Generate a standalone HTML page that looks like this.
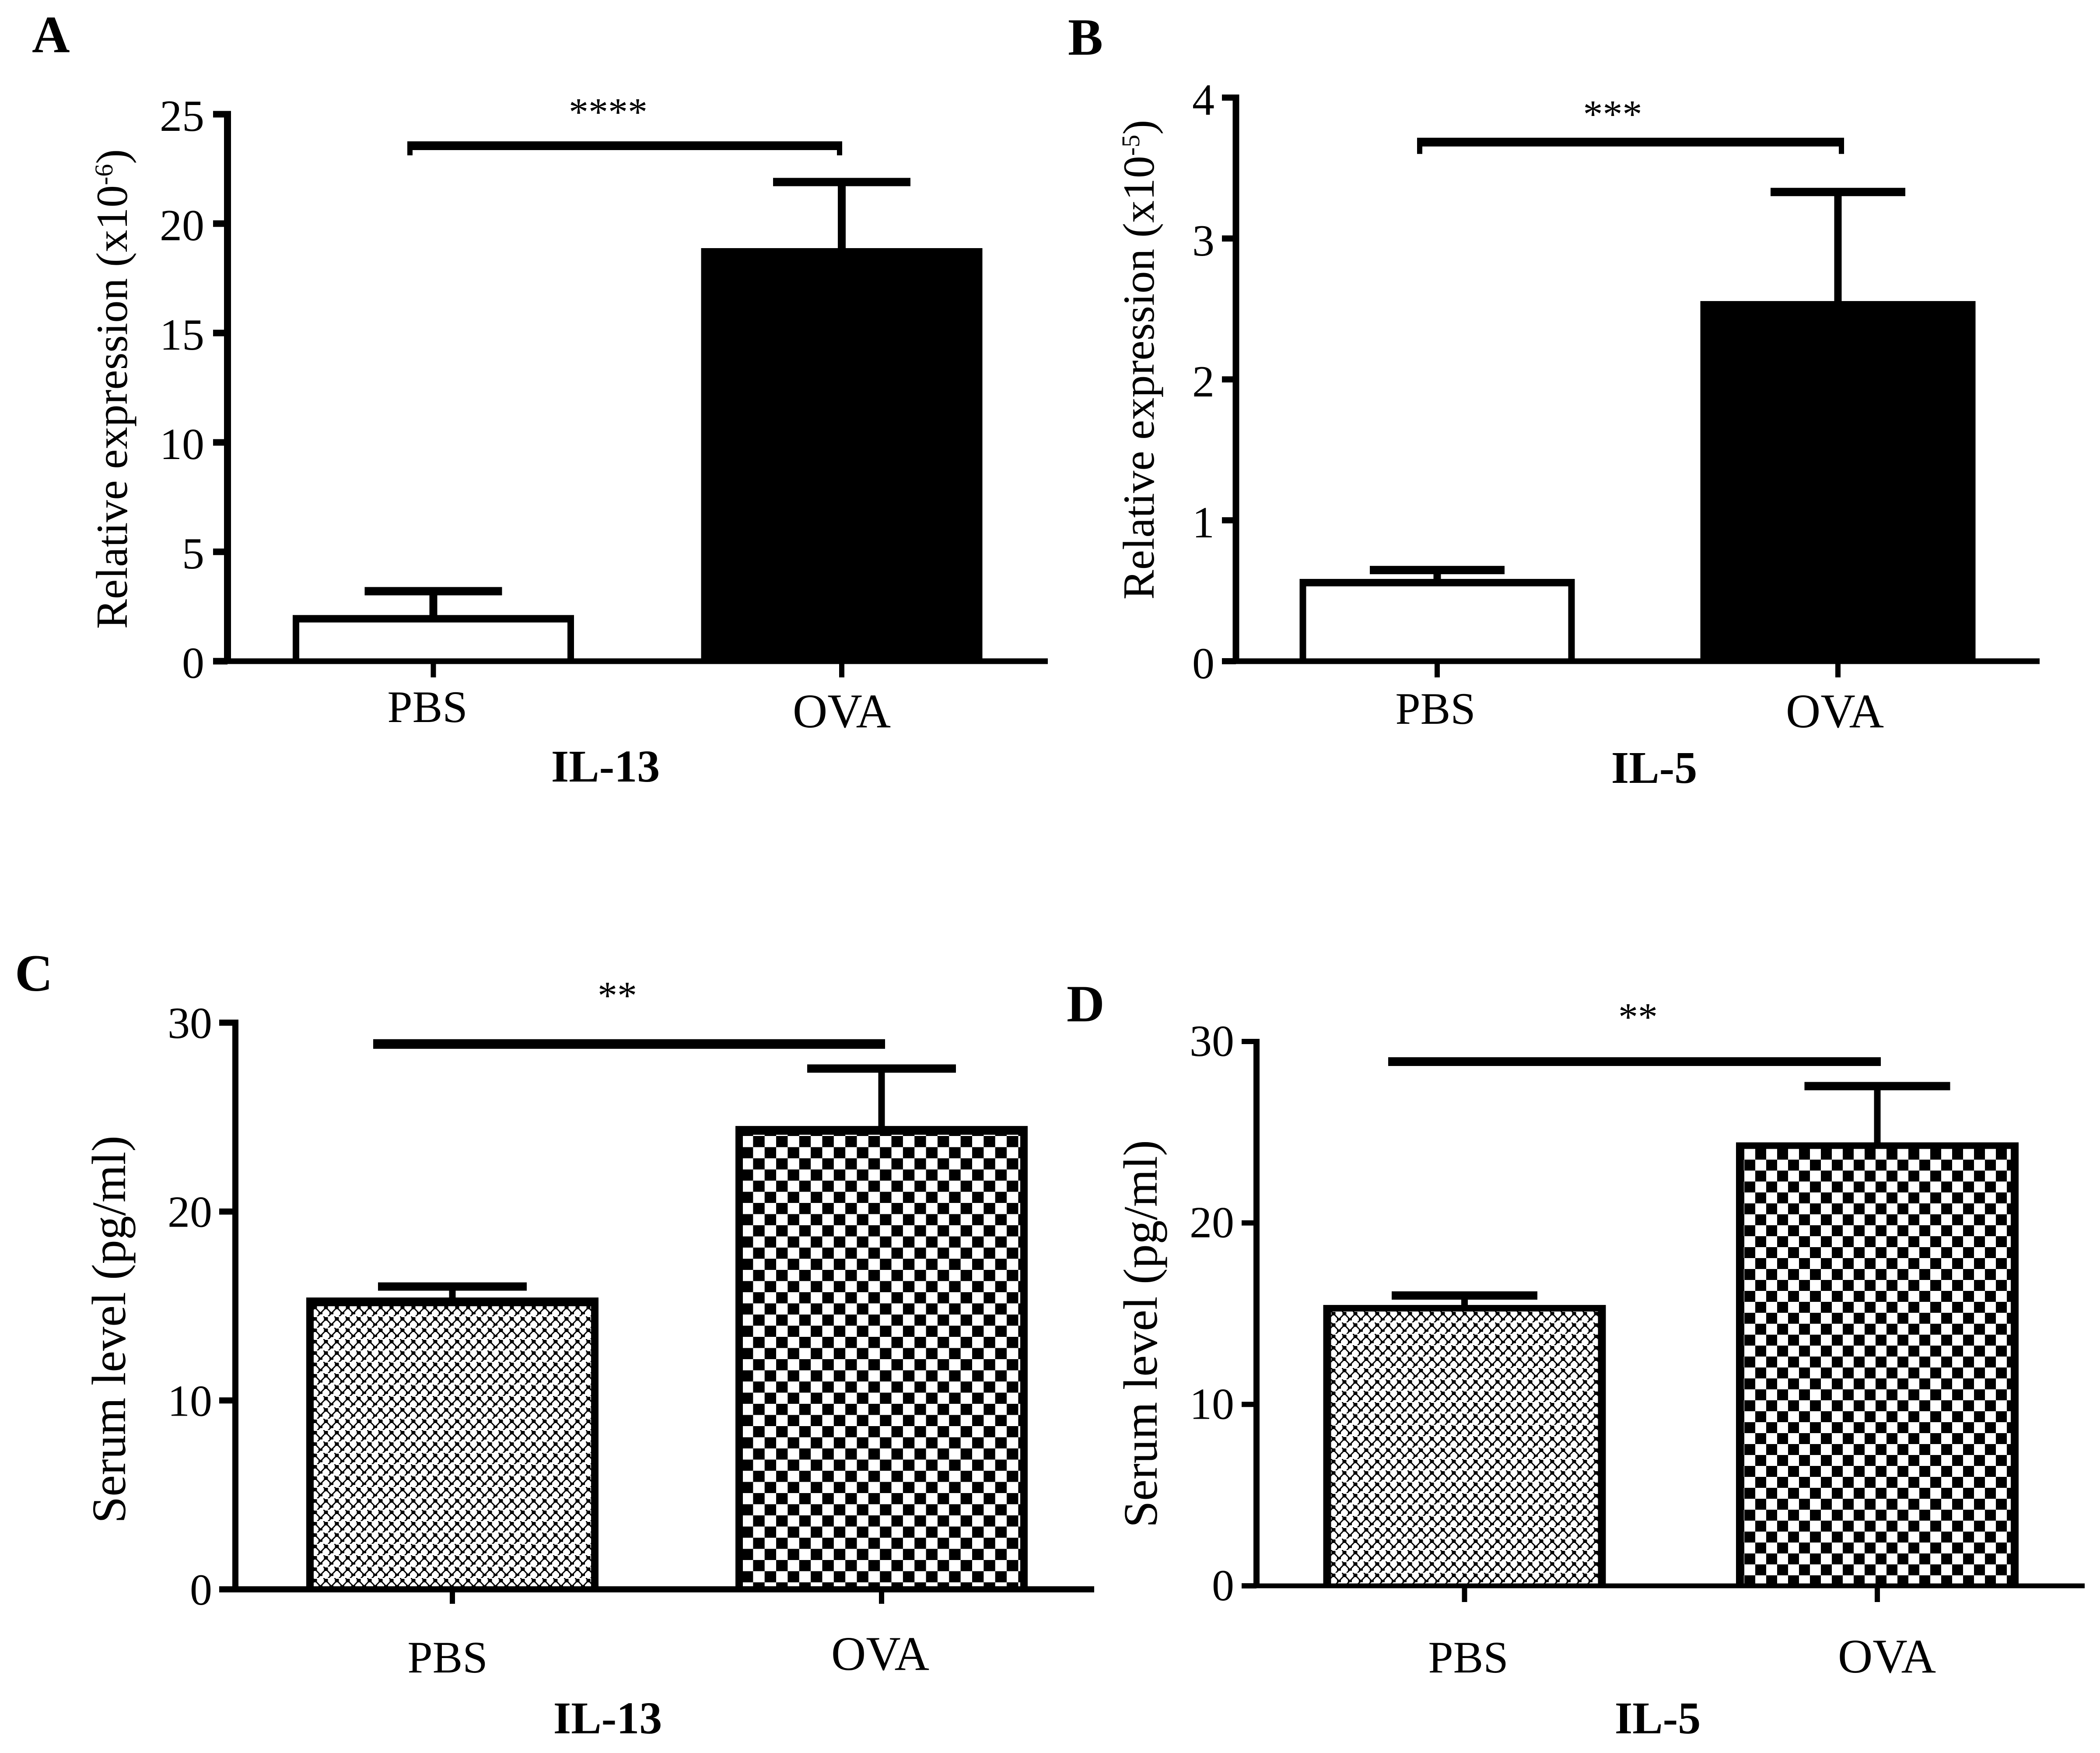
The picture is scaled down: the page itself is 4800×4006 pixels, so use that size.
<!DOCTYPE html>
<html lang="en">
<head>
<meta charset="utf-8">
<title>IL-13 and IL-5 expression and serum levels</title>
<style>
html,body{margin:0;padding:0;background:#fff;width:4800px;height:4006px;overflow:hidden}
svg{display:block}
text{font-family:"Liberation Serif",serif;fill:#000}
</style>
</head>
<body>
<svg id="figure" xmlns="http://www.w3.org/2000/svg" width="4800" height="4006" viewBox="0 0 4800 4006">
  <defs>
    <pattern id="fine-a" patternUnits="userSpaceOnUse" x="714" y="2982" width="25" height="26">
      <rect width="25" height="26" fill="#fff"/>
      <path d="M6 6L18.5 19L31 6M-6.5 19L6 6M6 32L18.5 19M-6.5 -7L6 6" stroke="#000" stroke-width="3" fill="none"/>
      <rect x="1.5" y="2" width="9" height="8" fill="#000"/>
      <rect x="14" y="16.5" width="9" height="5" fill="#000"/>
    </pattern>
    <pattern id="fine-b" patternUnits="userSpaceOnUse" x="3042" y="2996" width="25" height="26">
      <rect width="25" height="26" fill="#fff"/>
      <path d="M6 6L18.5 19L31 6M-6.5 19L6 6M6 32L18.5 19M-6.5 -7L6 6" stroke="#000" stroke-width="3" fill="none"/>
      <rect x="1.5" y="2" width="9" height="8" fill="#000"/>
      <rect x="14" y="16.5" width="9" height="5" fill="#000"/>
    </pattern>
    <pattern id="check-a" patternUnits="userSpaceOnUse" x="1695" y="2596" width="52.7" height="51">
      <rect width="52.7" height="51" fill="#000"/>
      <rect width="26.35" height="25.5" fill="#fff"/>
      <rect x="26.35" y="25.5" width="26.35" height="25.5" fill="#fff"/>
    </pattern>
    <pattern id="check-b" patternUnits="userSpaceOnUse" x="3987" y="2625" width="50" height="50">
      <rect width="50" height="50" fill="#000"/>
      <rect width="25" height="25" fill="#fff"/>
      <rect x="25" y="25" width="25" height="25" fill="#fff"/>
    </pattern>
  </defs>
</svg>
<script>
const categories = ['PBS', 'OVA'];

const panelATicks = [0, 5, 10, 15, 20, 25];
const panelAValues = [2.11, 18.88];
const panelAErrors = [1.09, 3.02];
const panelASignificance = 23.56;
const panelAStars = '****';

const panelBTicks = [0, 1, 2, 3, 4];
const panelBValues = [0.584, 2.556];
const panelBErrors = [0.063, 0.774];
const panelBSignificance = 3.684;
const panelBStars = '***';

const panelCTicks = [0, 10, 20, 30];
const panelCValues = [15.45, 24.53];
const panelCErrors = [0.58, 3.04];
const panelCSignificance = 28.87;
const panelCStars = '**';

const panelDTicks = [0, 10, 20, 30];
const panelDValues = [15.48, 24.44];
const panelDErrors = [0.52, 3.1];
const panelDSignificance = 28.89;
const panelDStars = '**';

const panels = [
  {id:'a', letter:'A', gene:'IL-13', title:['Relative expression (x10','-6',')'],
   ticks:panelATicks, values:panelAValues, errors:panelAErrors, sig:panelASignificance, stars:panelAStars,
   zero:1511, top:261, axisX:520, axisW:16, tickL:487, tickH:15, xEnd:2395, xAxisH:13, tickBottom:1548,
   first:990.5, step:933.5, barW:643, sideW:15, topW:17, capW:314, capH:19, stemW:18,
   fills:['#fff','#000'], sigL:931, sigR:1925, sigH:20, drop:22,
   letterX:73, letterY:119, tickRight:467, tickDy:38,
   titleX:290, titleY:889, titleSize:102,
   catX:{PBS:977, OVA:1924}, catY:{PBS:1650, OVA:1662}, geneX:1384, geneY:1786, starX:1390, starY:286},
  {id:'b', letter:'B', gene:'IL-5', title:['Relative expression (x10','-5',')'],
   ticks:panelBTicks, values:panelBValues, errors:panelBErrors, sig:panelBSignificance, stars:panelBStars,
   zero:1511, top:223, axisX:2825, axisW:15, tickL:2793, tickH:14, xEnd:4662, xAxisH:13, tickBottom:1548,
   first:3285, step:916, barW:629, sideW:15, topW:17, capW:308, capH:19, stemW:17,
   fills:['#fff','#000'], sigL:3239, sigR:4215, sigH:20, drop:27,
   letterX:2441, letterY:125, tickRight:2776, tickDy:39,
   titleX:2637, titleY:822, titleSize:102,
   catX:{PBS:3281, OVA:4194}, catY:{PBS:1654, OVA:1662}, geneX:3781, geneY:1789, starX:3686, starY:291},
  {id:'c', letter:'C', gene:'IL-13', title:['Serum level (pg/ml)'],
   ticks:panelCTicks, values:panelCValues, errors:panelCErrors, sig:panelCSignificance, stars:panelCStars,
   zero:3632, top:2337, axisX:538, axisW:14, tickL:501, tickH:14, xEnd:2501, xAxisH:14, tickBottom:3665,
   first:1034, step:981, barW:668, sideW:17, topW:20, capW:340, capH:19, stemW:15,
   fills:['url(#fine-a)','url(#check-a)'], sigL:853, sigR:2023, sigH:22, drop:0,
   letterX:34, letterY:2264, tickRight:485, tickDy:35,
   titleX:286, titleY:3038, titleSize:110,
   catX:{PBS:1023, OVA:2012}, catY:{PBS:3822, OVA:3816}, geneX:1389, geneY:3961, starX:1411, starY:2305},
  {id:'d', letter:'D', gene:'IL-5', title:['Serum level (pg/ml)'],
   ticks:panelDTicks, values:panelDValues, errors:panelDErrors, sig:panelDSignificance, stars:panelDStars,
   zero:3624, top:2380, axisX:2872, axisW:14, tickL:2838, tickH:12, xEnd:4765, xAxisH:11, tickBottom:3661,
   first:3347.5, step:943.5, barW:646, sideW:18, topW:15, capW:333, capH:19, stemW:15,
   fills:['url(#fine-b)','url(#check-b)'], sigL:3173, sigR:4299, sigH:20, drop:0,
   letterX:2438, letterY:2334, tickRight:2821, tickDy:33,
   titleX:2644, titleY:3048, titleSize:110,
   catX:{PBS:3356, OVA:4313}, catY:{PBS:3822, OVA:3822}, geneX:3789, geneY:3961, starX:3744, starY:2354}
];

const svgNS = 'http://www.w3.org/2000/svg';
const figure = document.getElementById('figure');

function make(tag, attrs, parent) {
  const el = document.createElementNS(svgNS, tag);
  for (const k in attrs) el.setAttribute(k, attrs[k]);
  parent.appendChild(el);
  return el;
}

panels.forEach(function (p) {
  const maxTick = p.ticks[p.ticks.length - 1];
  const y = function (v) { return p.zero - (v / maxTick) * (p.zero - p.top); };
  const x = function (i) { return p.first + i * p.step; };

  const g = make('g', {}, figure);
  
  

  const letter = make('text', {x:p.letterX, y:p.letterY, 'font-size':120, 'font-weight':'bold'}, g);
  letter.textContent = p.letter;
  
  

  categories.forEach(function (cat, i) {
    const left = x(i) - p.barW / 2;
    const barTop = y(p.values[i]);
    const capY = y(p.values[i] + p.errors[i]);

    const stem = make('rect', {x:x(i) - p.stemW / 2, y:capY, width:p.stemW, height:barTop - capY + 4, fill:'#000'}, g);
    
    

    const cap = make('rect', {x:x(i) - p.capW / 2, y:capY - p.capH / 2, width:p.capW, height:p.capH, fill:'#000'}, g);
    
    

    const frame = make('rect', {x:left, y:barTop, width:p.barW, height:p.zero - barTop, fill:'#000'}, g);
    
    

    const inner = make('rect', {x:left + p.sideW, y:barTop + p.topW, width:p.barW - 2 * p.sideW,
      height:Math.max(0, p.zero - barTop - p.topW), fill:p.fills[i]}, g);
    
    

    const xTick = make('rect', {x:x(i) - 6, y:p.zero, width:12, height:p.tickBottom - p.zero, fill:'#000'}, g);
    
    

    const label = make('text', {x:p.catX[cat], y:p.catY[cat], 'font-size':cat === 'PBS' ? 103 : 110, 'text-anchor':'middle'}, g);
    label.textContent = cat;
    
    
  });

  const yAxis = make('rect', {x:p.axisX - p.axisW / 2, y:p.top - p.tickH / 2, width:p.axisW, height:p.zero - p.top + p.tickH / 2, fill:'#000'}, g);
  
  

  const xAxis = make('rect', {x:p.tickL, y:p.zero - p.xAxisH / 2, width:p.xEnd - p.tickL, height:p.xAxisH, fill:'#000'}, g);
  
  

  p.ticks.forEach(function (t) {
    const tick = make('rect', {x:p.tickL, y:y(t) - p.tickH / 2, width:p.axisX - p.tickL, height:p.tickH, fill:'#000'}, g);
    
    

    const tickLabel = make('text', {x:p.tickRight, y:y(t) + p.tickDy, 'font-size':102, 'text-anchor':'end'}, g);
    tickLabel.textContent = String(t);
    
    
  });

  const title = make('text', {x:p.titleX, y:p.titleY, 'font-size':p.titleSize, 'text-anchor':'middle',
    transform:'rotate(-90 ' + p.titleX + ' ' + p.titleY + ')'}, g);
  
  
  const main = make('tspan', {}, title);
  main.textContent = p.title[0];
  if (p.title.length > 1) {
    const sup = make('tspan', {dy:-33, 'font-size':58}, title);
    sup.textContent = p.title[1];
    const close = make('tspan', {dy:33}, title);
    close.textContent = p.title[2];
  }

  const sigY = y(p.sig);
  const sigBar = make('rect', {x:p.sigL, y:sigY - p.sigH / 2, width:p.sigR - p.sigL, height:p.sigH, fill:'#000'}, g);
  
  
  if (p.drop > 0) {
    const dropL = make('rect', {x:p.sigL, y:sigY, width:12, height:p.drop, fill:'#000'}, g);
    
    
    const dropR = make('rect', {x:p.sigR - 12, y:sigY, width:12, height:p.drop, fill:'#000'}, g);
    
    
  }

  const stars = make('text', {x:p.starX, y:p.starY, 'font-size':90, 'text-anchor':'middle'}, g);
  stars.textContent = p.stars;
  
  

  const gene = make('text', {x:p.geneX, y:p.geneY, 'font-size':104, 'font-weight':'bold', 'text-anchor':'middle'}, g);
  gene.textContent = p.gene;
  
  
});
</script>
</body>
</html>
